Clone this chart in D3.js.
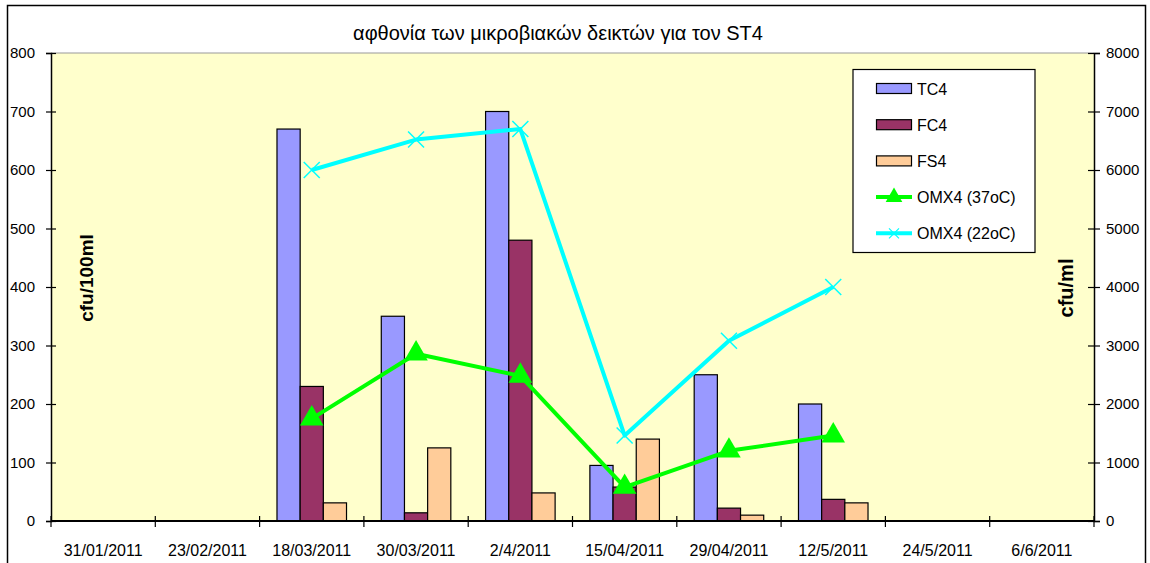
<!DOCTYPE html>
<meta charset="utf-8">
<head>
<title>ST4</title>
<script src="https://cdn.jsdelivr.net/npm/d3@7"></script>
<style>
  body { margin: 0; background: #fff; }
  text { font-family: "Liberation Sans", Arial, sans-serif; fill: #000; }
  .axis text { font-size: 15px; }
</style>
</head>
<body>
<div id="chart"></div>
<script>
// data
var dates = ["31/01/2011", "23/02/2011", "18/03/2011", "30/03/2011", "2/4/2011",
             "15/04/2011", "29/04/2011", "12/5/2011", "24/5/2011", "6/6/2011"];
var tc4 = [null, null, 670, 350, 700, 95, 250, 200, null, null];
var fc4 = [null, null, 230, 14, 480, 58, 22, 37, null, null];
var fs4 = [null, null, 31, 125, 48, 140, 10, 31, null, null];
var omx37 = [null, null, 1750, 2860, 2480, 580, 1200, 1460, null, null];
var omx22 = [null, null, 6000, 6520, 6700, 1460, 3080, 4000, null, null];
var leftTicks = [0, 100, 200, 300, 400, 500, 600, 700, 800];
var rightTicks = [0, 1000, 2000, 3000, 4000, 5000, 6000, 7000, 8000];

var W = 1150, H = 563;
var plot = {left: 51, right: 1094, top: 53, bottom: 521};

var svg = d3.select("#chart").append("svg")
    .attr("width", W).attr("height", H);

// outer frame
svg.append("rect").attr("x", 7.5).attr("y", 5.5).attr("width", 1138).attr("height", 600)
    .attr("fill", "#fff").attr("stroke", "#000").attr("stroke-width", 1.5);

svg.append("text").attr("x", 558).attr("y", 40).attr("text-anchor", "middle")
    .style("font-size", "20px").text("αφθονία των μικροβιακών δεικτών για τον ST4");

// scales
var x = d3.scaleBand().domain(dates).range([plot.left, plot.right]).padding(0);
var yL = d3.scaleLinear().domain([0, 800]).range([plot.bottom, plot.top]);
var yR = d3.scaleLinear().domain([0, 8000]).range([plot.bottom, plot.top]);
var barW = x.bandwidth() / 4.5;

svg.append("rect").attr("x", plot.left).attr("y", plot.top)
    .attr("width", plot.right - plot.left).attr("height", plot.bottom - plot.top)
    .attr("fill", "#ffffcc");
svg.append("line").attr("x1", plot.left).attr("x2", plot.right)
    .attr("y1", plot.top).attr("y2", plot.top).attr("stroke", "#999");

// bars
var series = [
  {name: "TC4", vals: tc4, color: "#9999ff"},
  {name: "FC4", vals: fc4, color: "#993366"},
  {name: "FS4", vals: fs4, color: "#ffcc99"}
];
series.forEach(function(s, si) {
  svg.append("g").selectAll("rect")
    .data(dates.map(function(d, i) { return {d: d, v: s.vals[i]}; }).filter(function(p) { return p.v != null; }))
    .enter().append("rect")
      .attr("x", function(p) { return x(p.d) + x.bandwidth() / 2 - 1.5 * barW + si * barW; })
      .attr("y", function(p) { return yL(p.v); })
      .attr("width", barW)
      .attr("height", function(p) { return plot.bottom - yL(p.v); })
      .attr("fill", s.color)
      .attr("stroke", "#000").attr("stroke-width", 1.2);
});

// axes
var gL = svg.append("g").attr("class", "axis").attr("transform", "translate(" + plot.left + ",0)")
    .call(d3.axisLeft(yL).tickValues(leftTicks).tickSize(5).tickPadding(11));
var gR = svg.append("g").attr("class", "axis").attr("transform", "translate(" + plot.right + ",0)")
    .call(d3.axisRight(yR).tickValues(rightTicks).tickFormat(d3.format("d")).tickSize(6));
[gL, gR].forEach(function(g) {
  g.select(".domain").attr("stroke", "#000").attr("stroke-width", 1.5);
  g.selectAll(".tick line").attr("stroke", "#000").attr("stroke-width", 1.2);
});
gL.selectAll(".tick line").attr("x1", 5).attr("x2", -5);
gR.selectAll(".tick line").attr("x1", -6).attr("x2", 6);
gR.selectAll(".tick text").attr("x", 12);

var gX = svg.append("g").attr("transform", "translate(0," + plot.bottom + ")");
gX.append("line").attr("x1", plot.left).attr("x2", plot.right).attr("stroke", "#000").attr("stroke-width", 1.8);
gX.selectAll("line.t").data(d3.range(dates.length + 1)).enter().append("line")
    .attr("x1", function(i) { return plot.left + i * x.step(); })
    .attr("x2", function(i) { return plot.left + i * x.step(); })
    .attr("y1", -5).attr("y2", 6).attr("stroke", "#000").attr("stroke-width", 1.2);
gX.selectAll("text").data(dates).enter().append("text")
    .style("font-size", "16px")
    .attr("x", function(d) { return x(d) + x.bandwidth() / 2; })
    .attr("y", 35).attr("text-anchor", "middle").text(function(d) { return d; });

// axis titles
svg.append("text").attr("transform", "translate(93,278) rotate(-90)")
    .attr("text-anchor", "middle").style("font-size", "19px").style("font-weight", "bold").text("cfu/100ml");
svg.append("text").attr("transform", "translate(1073,288) rotate(-90)")
    .attr("text-anchor", "middle").style("font-size", "20px").style("font-weight", "bold").text("cfu/ml");

// lines
var cx = function(i) { return x(dates[i]) + x.bandwidth() / 2; };
function linePts(vals) {
  return vals.map(function(v, i) { return {i: i, v: v}; }).filter(function(p) { return p.v != null; });
}
var line = d3.line().x(function(p) { return cx(p.i); }).y(function(p) { return yR(p.v); });

var p22 = linePts(omx22);
svg.append("path").datum(p22).attr("d", line).attr("fill", "none")
    .attr("stroke", "#00ffff").attr("stroke-width", 4).attr("stroke-linejoin", "round");
svg.append("g").selectAll("path").data(p22).enter().append("path")
    .attr("transform", function(p) { return "translate(" + cx(p.i) + "," + yR(p.v) + ")"; })
    .attr("d", "M-8,-8L8,8M-8,8L8,-8").attr("stroke", "#00ffff").attr("stroke-width", 1.5);

var p37 = linePts(omx37);
svg.append("path").datum(p37).attr("d", line).attr("fill", "none")
    .attr("stroke", "#00ff00").attr("stroke-width", 4).attr("stroke-linejoin", "round");
svg.append("g").selectAll("path").data(p37).enter().append("path")
    .attr("transform", function(p) { return "translate(" + cx(p.i) + "," + yR(p.v) + ")"; })
    .attr("d", d3.symbol().type(d3.symbolTriangle).size(240)).attr("fill", "#00ff00");

// legend
var lg = svg.append("g").attr("transform", "translate(853,69.5)");
lg.append("rect").attr("width", 182).attr("height", 183).attr("fill", "#fff").attr("stroke", "#000").attr("stroke-width", 1.2);
var items = [
  {label: "TC4", type: "bar", color: "#9999ff"},
  {label: "FC4", type: "bar", color: "#993366"},
  {label: "FS4", type: "bar", color: "#ffcc99"},
  {label: "OMX4 (37oC)", type: "tri", color: "#00ff00"},
  {label: "OMX4 (22oC)", type: "x", color: "#00ffff"}
];
items.forEach(function(it, k) {
  var yy = 19 + k * 36.2;
  var g = lg.append("g").attr("transform", "translate(0," + yy + ")");
  if (it.type === "bar") {
    g.append("rect").attr("x", 23.5).attr("y", -5).attr("width", 35).attr("height", 10)
      .attr("fill", it.color).attr("stroke", "#000").attr("stroke-width", 1.2);
  } else {
    g.append("line").attr("x1", 23).attr("x2", 59).attr("stroke", it.color).attr("stroke-width", 4);
    if (it.type === "tri") {
      g.append("path").attr("transform", "translate(41,0)")
        .attr("d", d3.symbol().type(d3.symbolTriangle).size(120)).attr("fill", it.color);
    } else {
      g.append("path").attr("transform", "translate(41,0)")
        .attr("d", "M-5,-5L5,5M-5,5L5,-5").attr("stroke", it.color).attr("stroke-width", 1.2);
    }
  }
  g.append("text").attr("x", 64).attr("y", 6).style("font-size", "16px").text(it.label);
});
</script>
</body>
</html>
